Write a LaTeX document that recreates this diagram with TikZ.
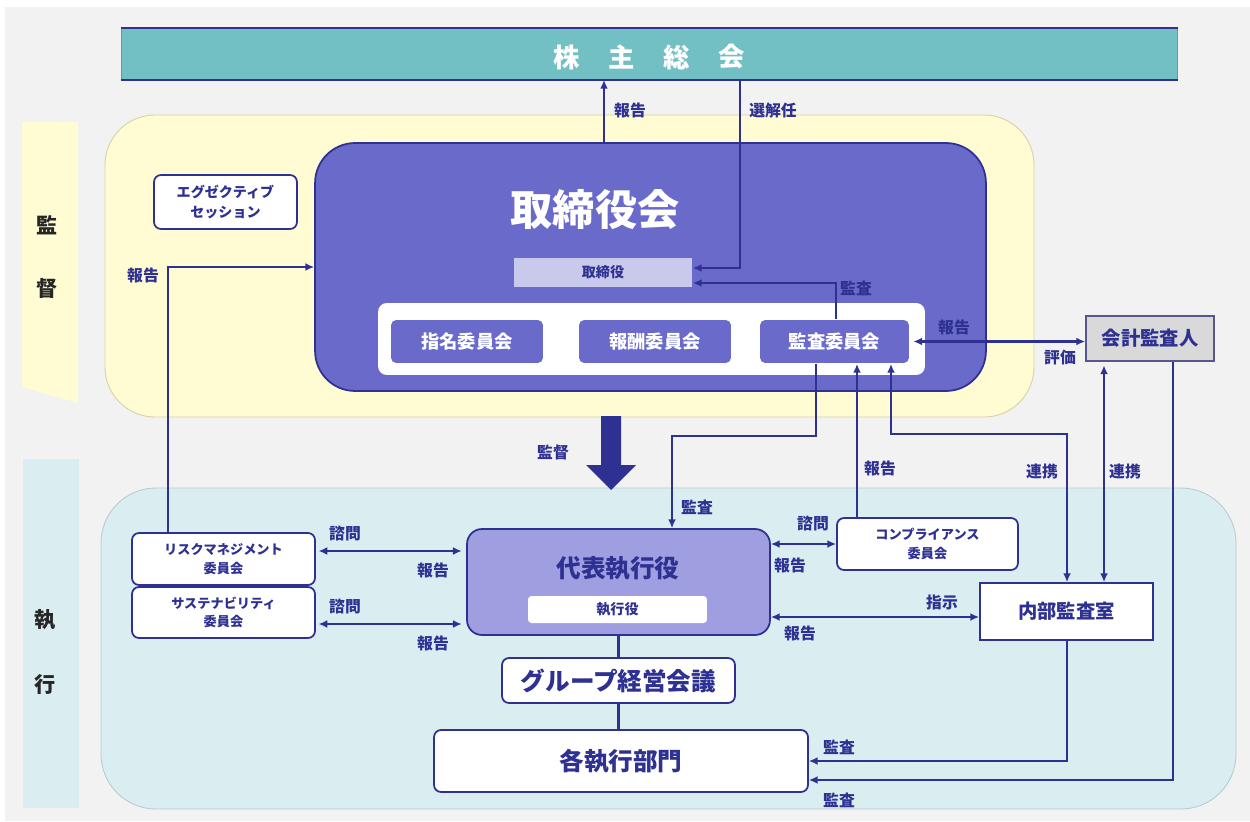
\documentclass[tikz,border=0pt]{standalone}
\usepackage{fontspec}
\setmainfont{Noto Sans CJK JP}
\usetikzlibrary{arrows.meta}

\definecolor{navy}{HTML}{2E3192}
\definecolor{bgc}{HTML}{F2F2F2}
\definecolor{supy}{HTML}{FFFBD3}
\definecolor{supyd}{HTML}{D6D2A6}
\definecolor{exeb}{HTML}{DAEDF1}
\definecolor{exebd}{HTML}{B7CCD1}
\definecolor{gmteal}{HTML}{72BFC4}
\definecolor{brd}{HTML}{6A6ACB}
\definecolor{ceoc}{HTML}{9E9EE0}
\definecolor{lav}{HTML}{C9C9EC}
\definecolor{accg}{HTML}{D9D9D9}

\begin{document}
\begin{tikzpicture}[x=0.02cm,y=-0.02cm,line width=1pt,
  arr/.style={navy,line width=1.3pt,-{Latex[length=5pt,width=4.5pt]}},
  darr/.style={navy,line width=1.3pt,{Latex[length=5pt,width=4.5pt]}-{Latex[length=5pt,width=4.5pt]}},
  conn/.style={navy,line width=1.3pt},
  lab/.style={text=navy,inner sep=0pt,font=\bfseries\fontsize{9}{9}\selectfont},
  side/.style={text=black!85,inner sep=0pt,font=\bfseries\fontsize{12}{12}\selectfont},
  wbox/.style={draw=navy,fill=white,rounded corners=4pt,text=navy,align=center,inner sep=0pt},
  cbox/.style={fill=brd,rounded corners=3pt,text=white,inner sep=0pt,minimum height=0.86cm,
    font=\bfseries\fontsize{10.4}{10.4}\selectfont}]
  \fill[white] (0,0) rectangle (1250,821);
  \fill[bgc] (5,7) rectangle (1250,821);
  \useasboundingbox (0,0) rectangle (1250,821);

  \fill[supy] (22,122) -- (78,122) -- (78,403) -- (22,387) -- cycle;
  \fill[exeb] (23,459) rectangle (79,808);
  \node[side] (s1) at (47,225) {監};
  \node[side] (s2) at (47,288) {督};
  \node[side] (s3) at (45,620) {執};
  \node[side] (s4) at (45,684) {行};

  \filldraw[fill=supy, draw=supyd, line width=0.5pt, rounded corners=1cm] (105,115) rectangle (1034,417);
  \filldraw[fill=exeb, draw=exebd, line width=0.5pt, rounded corners=1.1cm] (101,488) rectangle (1236,809);

  \node[fill=gmteal, draw=navy!60, line width=0.5pt, minimum width=21.14cm, minimum height=1.02cm, inner sep=0pt] (gm) at (649.5,54) {};
  \draw[navy, line width=1.3pt] (gm.north west) -- (gm.north east);
  \draw[navy, line width=1.3pt] (gm.south west) -- (gm.south east);
  \foreach \c [count=\i] in {株,主,総,会}
    \node[text=white, inner sep=0pt, font=\bfseries\fontsize{15}{15}\selectfont] (gm\i) at (512+55*\i,57) {\c};

  \node[fill=brd, draw=navy, rounded corners=0.8cm, minimum width=13.42cm, minimum height=4.96cm] (board) at (650.5,267) {};
  \node[text=white, inner sep=0pt, font=\bfseries\fontsize{24}{24}\selectfont] (boardt) at (595,210) {取締役会};
  \node[fill=lav, minimum width=3.56cm, minimum height=0.58cm, inner sep=0pt, text=navy, font=\bfseries\fontsize{8}{8}\selectfont] (dir) at (603,272.5) {取締役};
  \node[fill=white, rounded corners=5pt, minimum width=10.94cm, minimum height=1.44cm] (cmt) at (651.5,339) {};
  \node[cbox, minimum width=3.04cm] (nom) at (467,341.5) {指名委員会};
  \node[cbox, minimum width=3.04cm] (rem) at (655,341.5) {報酬委員会};
  \node[cbox, minimum width=2.98cm] (aud) at (834.5,341.5) {監査委員会};

  \node[wbox, minimum width=2.86cm, minimum height=1.08cm, font=\bfseries\fontsize{8}{11}\selectfont] (exs) at (225.5,202) {エグゼクティブ\\セッション};
  \node[draw=navy!50!gray, fill=accg, minimum width=2.56cm, minimum height=0.9cm, inner sep=0pt, text=navy, font=\bfseries\fontsize{11}{11}\selectfont] (ext) at (1150,338.5) {会計監査人};

  \node[fill=ceoc, draw=navy, rounded corners=0.3cm, minimum width=6.06cm, minimum height=2.12cm] (ceo) at (618.5,582) {};
  \node[text=navy, inner sep=0pt, font=\bfseries\fontsize{14}{14}\selectfont] (ceot) at (618,568) {代表執行役};
  \node[fill=white, rounded corners=2pt, minimum width=3.58cm, minimum height=0.54cm, inner sep=0pt, text=navy, font=\bfseries\fontsize{8}{8}\selectfont] (exo) at (617.5,609.5) {執行役};

  \node[wbox, minimum width=3.66cm, minimum height=1.04cm, font=\bfseries\fontsize{7.5}{10.5}\selectfont] (risk) at (223.5,559) {リスクマネジメント\\委員会};
  \node[wbox, minimum width=3.66cm, minimum height=1.02cm, font=\bfseries\fontsize{7.5}{10.5}\selectfont] (sust) at (223.5,612.5) {サステナビリティ\\委員会};
  \node[wbox, minimum width=3.62cm, minimum height=1.04cm, font=\bfseries\fontsize{7.5}{10.5}\selectfont] (comp) at (927.5,544) {コンプライアンス\\委員会};
  \node[wbox, rounded corners=0pt, minimum width=3.46cm, minimum height=1.14cm, font=\bfseries\fontsize{11}{11}\selectfont] (iad) at (1066.5,611.5) {内部監査室};
  \node[wbox, minimum width=4.66cm, minimum height=0.9cm, font=\bfseries\fontsize{14}{14}\selectfont] (grp) at (618.5,680.5) {グループ経営会議};
  \node[wbox, minimum width=7.48cm, minimum height=1.24cm, font=\bfseries\fontsize{14}{14}\selectfont] (dept) at (621,761) {各執行部門};

  \coordinate (xrep) at (604,0);
  \coordinate (xsel) at (740,0);
  \coordinate (xaud) at (836,0);
  \coordinate (xrisk) at (168,0);
  \coordinate (audturn) at (816,436);
  \coordinate (xceo) at (672,0);
  \coordinate (xcomp) at (857,0);
  \coordinate (lnkturn) at (891,434);
  \coordinate (xiad) at (1067,0);
  \coordinate (xext) at (1104,0);
  \coordinate (xacc) at (1173,0);
  \coordinate (yrisk) at (0,551);
  \coordinate (ysust) at (0,624);
  \coordinate (yiad) at (0,617);

  \draw[arr] (board.north -| xrep) -- (gm.south -| xrep);
  \draw[arr] (gm.south -| xsel) |- ([yshift=0.09cm]dir.east);
  \draw[arr] (aud.north -| xaud) |- ([yshift=-0.21cm]dir.east);
  \draw[darr, shorten <=2pt] (aud.east) -- (aud.east -| ext.west);
  \draw[arr] (risk.north -| xrisk) |- (board.west);
  \draw[arr] (aud.south -| audturn) -- (audturn) -| (ceo.north -| xceo);
  \draw[arr] (comp.north -| xcomp) -- (aud.south -| xcomp);
  \draw[darr] (aud.south -| lnkturn) -- (lnkturn) -| (iad.north -| xiad);
  \draw[darr, shorten <=2pt] (ext.south -| xext) -- (iad.north -| xext);
  \draw[arr] (ext.south -| xacc) |- ([yshift=-0.38cm]dept.east);
  \draw[arr] (iad.south -| xiad) |- (dept.east);
  \draw[darr, shorten <=1.5pt, shorten >=2.5pt] (risk.east |- yrisk) -- (ceo.west |- yrisk);
  \draw[darr, shorten <=1.5pt, shorten >=2.5pt] (sust.east |- ysust) -- (ceo.west |- ysust);
  \draw[darr] (ceo.east |- comp.west) -- (comp.west);
  \draw[darr] (ceo.east |- yiad) -- (iad.west |- yiad);
  \draw[conn] (ceo.south) -- (grp.north);
  \draw[conn] (grp.south) -- (grp.south |- dept.north);
  \fill[navy] (601,416) -- (621,416) -- (621,465) -- (636,465) -- (611,490) -- (586,465) -- (601,465) -- cycle;

  \node[lab] (l1) at (630,110) {報告};
  \node[lab] (l2) at (773,110) {選解任};
  \node[lab] (l3) at (143,275) {報告};
  \node[lab] (l4) at (856,288) {監査};
  \node[lab] (l5) at (954,327) {報告};
  \node[lab] (l6) at (1060,358) {評価};
  \node[lab] (l7) at (553,452) {監督};
  \node[lab] (l8) at (697,507) {監査};
  \node[lab] (l9) at (880,468) {報告};
  \node[lab] (l10) at (1042,472) {連携};
  \node[lab] (l11) at (1125,472) {連携};
  \node[lab] (l12) at (345,533) {諮問};
  \node[lab] (l13) at (433,570) {報告};
  \node[lab] (l14) at (345,606) {諮問};
  \node[lab] (l15) at (433,643) {報告};
  \node[lab] (l16) at (813,523) {諮問};
  \node[lab] (l17) at (790,565) {報告};
  \node[lab] (l18) at (942,602) {指示};
  \node[lab] (l19) at (800,633) {報告};
  \node[lab] (l20) at (839,747) {監査};
  \node[lab] (l21) at (839,800) {監査};
\end{tikzpicture}
\end{document}
